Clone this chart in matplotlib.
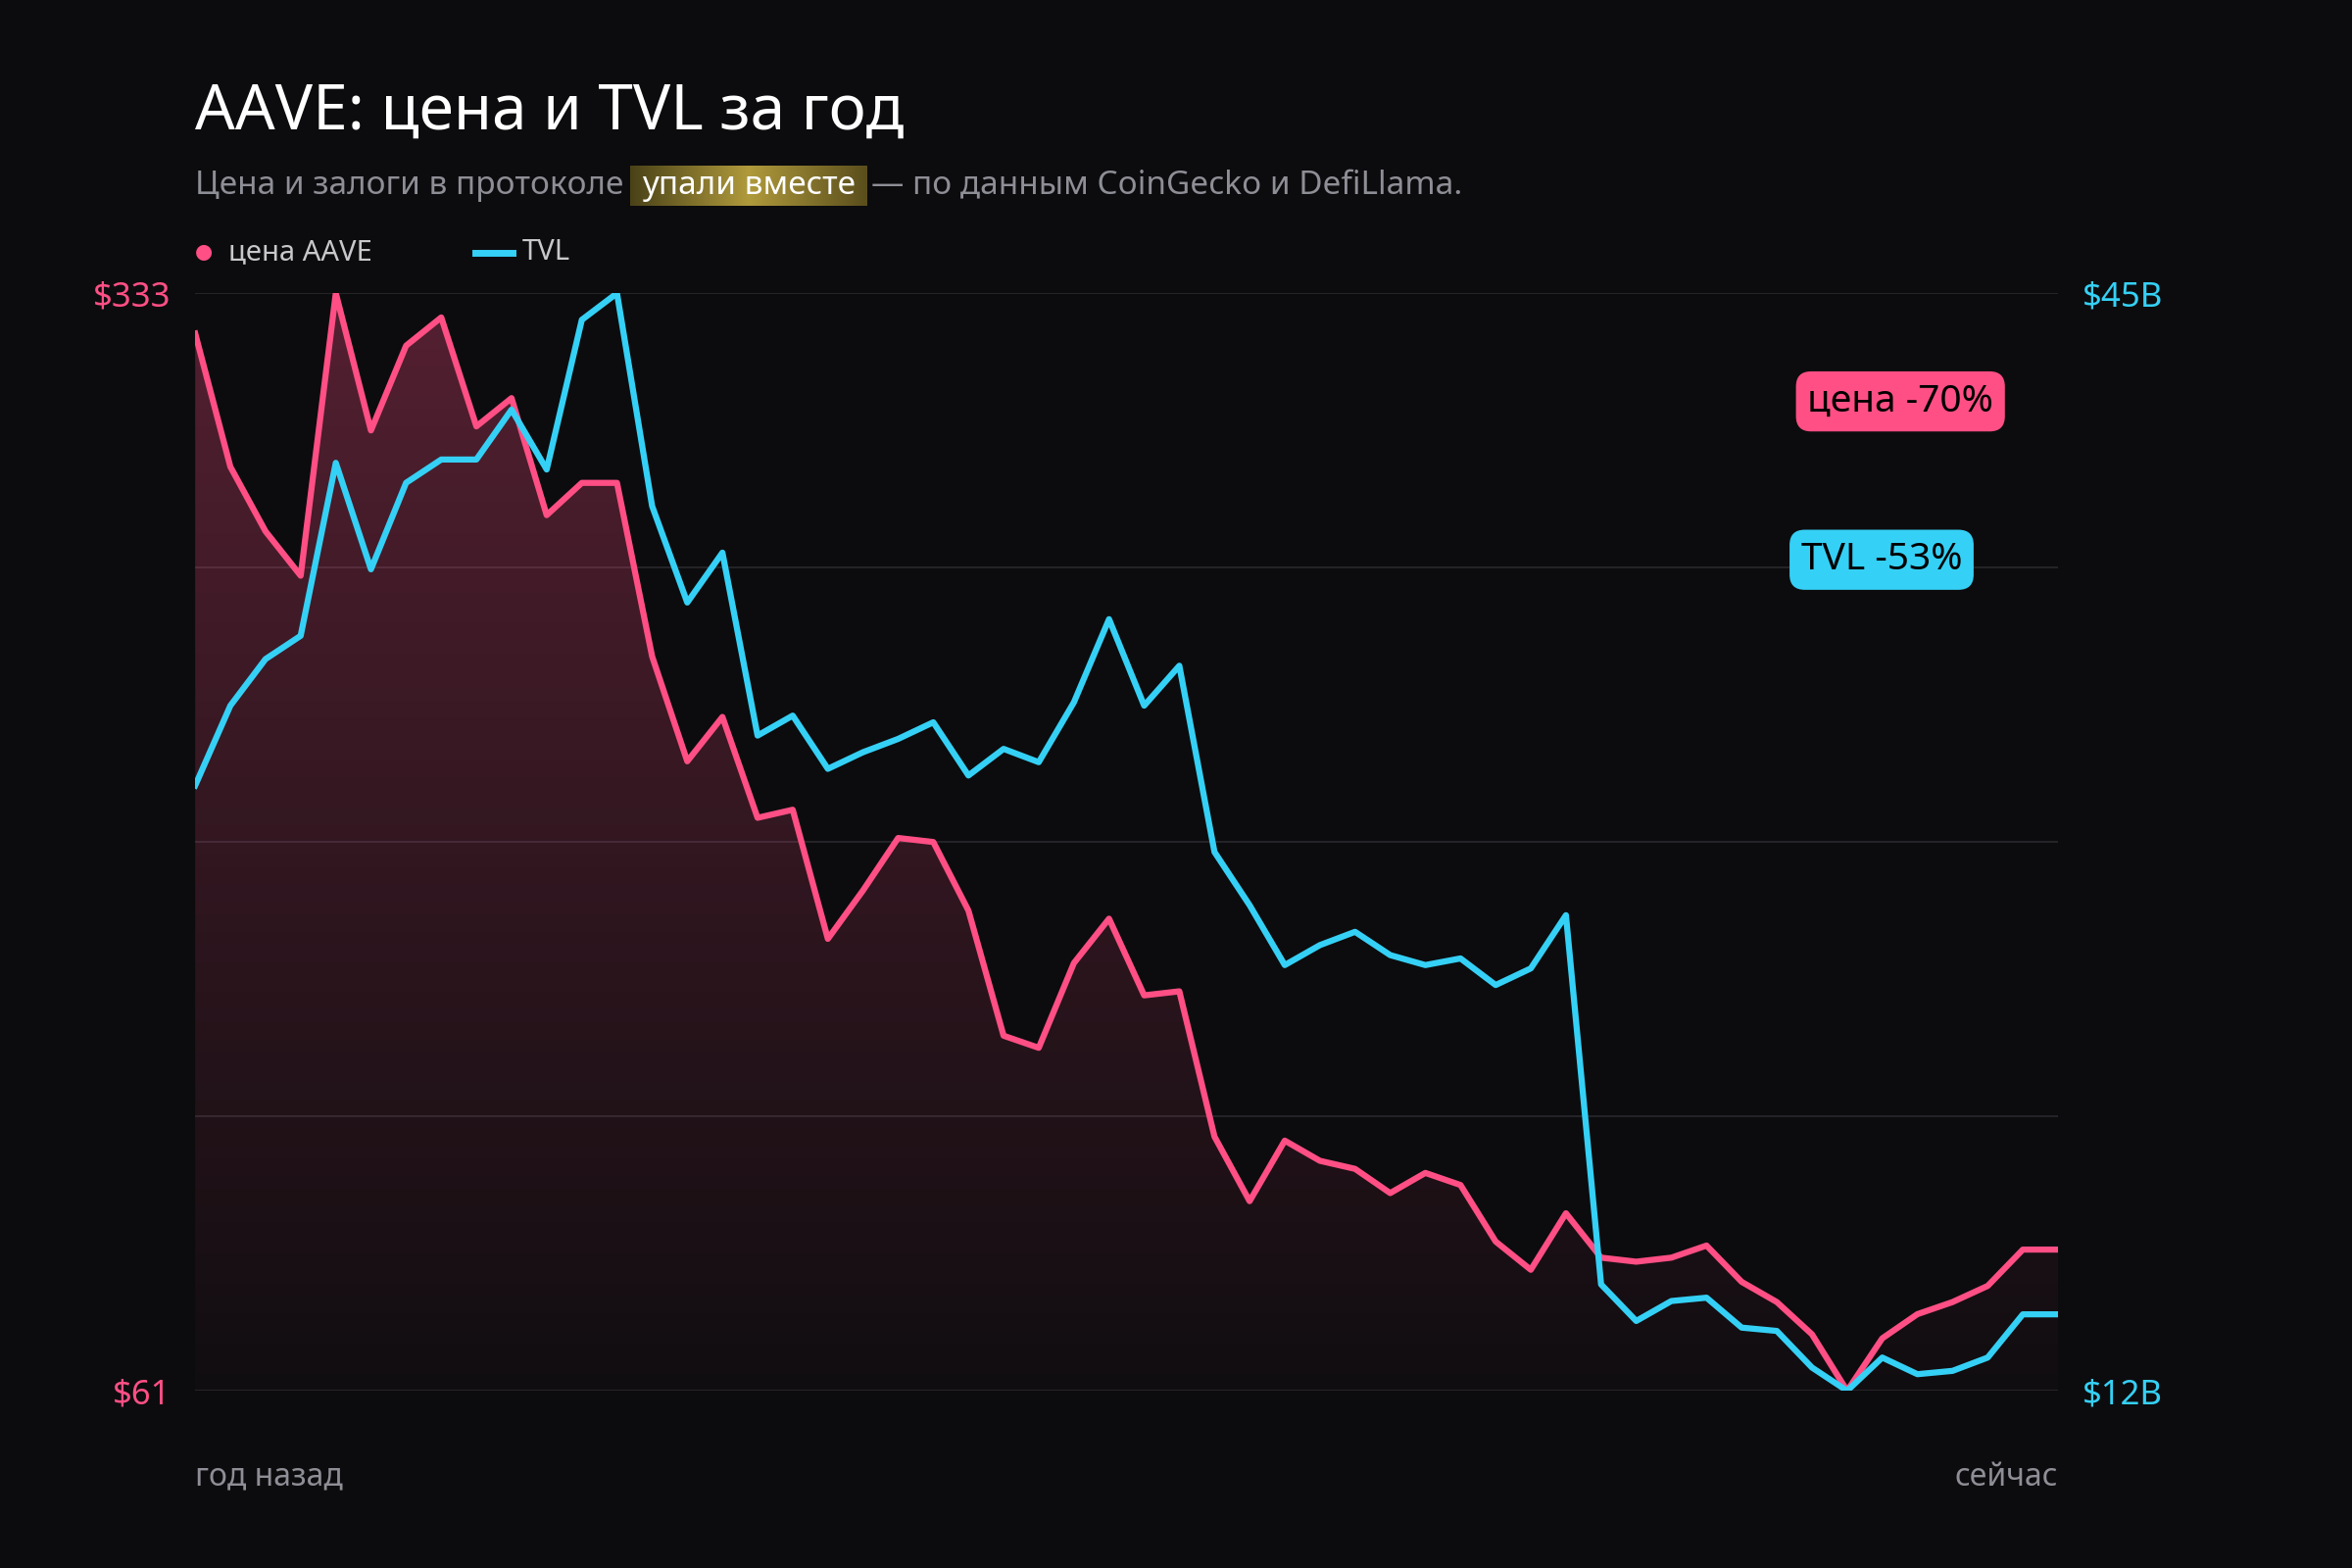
import numpy as np
import matplotlib.pyplot as plt
from matplotlib.colors import LinearSegmentedColormap

price = [323, 290, 274, 263, 333, 299, 320, 327, 300, 307, 278, 286, 286, 243, 217, 228,
         203, 205, 173, 185, 198, 197, 180, 149, 146, 167, 178, 159, 160, 124, 108, 123,
         118, 116, 110, 115, 112, 98, 91, 105, 94, 93, 94, 97, 88, 83, 75, 61, 74, 80,
         83, 87, 96, 96]
tvl = [30.2, 32.6, 34.0, 34.7, 39.9, 36.7, 39.3, 40.0, 40.0, 41.5, 39.7, 44.2, 45.0, 38.6,
       35.7, 37.2, 31.7, 32.3, 30.7, 31.2, 31.6, 32.1, 30.5, 31.3, 30.9, 32.7, 35.2, 32.6,
       33.8, 28.2, 26.6, 24.8, 25.4, 25.8, 25.1, 24.8, 25.0, 24.2, 24.7, 26.3, 15.2, 14.1,
       14.7, 14.8, 13.9, 13.8, 12.7, 12.0, 13.0, 12.5, 12.6, 13.0, 14.3, 14.3]
x = np.arange(len(price))

BG = '#0c0c0e'
PINK = '#ff4f85'
CYAN = '#35d0f5'
GREY = '#8e8e96'
plt.rcParams['font.family'] = ['Noto Sans', 'DejaVu Sans']

fig = plt.figure(figsize=(24, 16), dpi=100, facecolor=BG)
ax = fig.add_axes([0.083, 0.113, 0.792, 0.70])
ax.set_facecolor(BG)
ax2 = ax.twinx()

pmin, pmax = 61, 333
tmin, tmax = 12, 45
ax.set_ylim(pmin, pmax)
ax2.set_ylim(tmin, tmax)
ax.set_xlim(0, len(price) - 1)

for v in np.linspace(pmin, pmax, 5):
    ax.axhline(v, color='#2a2a2e', lw=1.2, zorder=0)

# gradient fill under price
poly = ax.fill_between(x, price, pmin, color='none')
grad = np.linspace(0, 1, 256).reshape(-1, 1)
cmap = LinearSegmentedColormap.from_list('g', [(1, 0.31, 0.52, 0.02), (1, 0.31, 0.52, 0.30)])
im = ax.imshow(grad, aspect='auto', cmap=cmap, origin='lower',
               extent=[0, len(price) - 1, pmin, pmax], zorder=1)
im.set_clip_path(poly.get_paths()[0], transform=ax.transData)

ax.plot(x, price, color=PINK, lw=4.5, zorder=3, solid_joinstyle='round')
ax2.plot(x, tvl, color=CYAN, lw=4.5, zorder=3, solid_joinstyle='round')

for a in (ax, ax2):
    for s in a.spines.values():
        s.set_visible(False)
    a.tick_params(length=0, pad=18)
ax.set_xticks([])
ax.set_yticks([pmin, pmax])
ax.set_yticklabels(['$61', '$333'], color=PINK, fontsize=25, fontweight='bold')
ax2.set_yticks([tmin, tmax])
ax2.set_yticklabels(['$12B', '$45B'], color=CYAN, fontsize=25, fontweight='bold')

# title and subtitle
fig.text(0.083, 0.918, 'AAVE: цена и TVL за год', color='white', fontsize=46,
         fontweight='bold', va='baseline')
fig.canvas.draw()
r = fig.canvas.get_renderer()
y_sub = 0.876
t1 = fig.text(0.083, y_sub, 'Цена и залоги в протоколе ', color=GREY, fontsize=24,
              fontweight='bold', va='baseline')
e1 = t1.get_window_extent(r)
x2 = e1.x1 / 2400 + 0.004
t2 = fig.text(x2, y_sub, 'упали вместе', color='white', fontsize=24,
              fontweight='bold', va='baseline', zorder=5)
e2 = t2.get_window_extent(r)
hl = np.linspace(0, 1, 256).reshape(1, -1)
hcmap = LinearSegmentedColormap.from_list('h', ['#4a4218', '#b09a3c', '#5a4e1c'])
hax = fig.add_axes([(e2.x0 - 12) / 2400, (e2.y0 - 4) / 1600,
                    (e2.width + 24) / 2400, (e2.height + 8) / 1600], zorder=-1)
hax.imshow(hl, aspect='auto', cmap=hcmap)
hax.axis('off')
fig.text((e2.x1 + 16) / 2400, y_sub, '— по данным CoinGecko и DefiLlama.',
         color=GREY, fontsize=24, fontweight='bold', va='baseline')

# legend
fig.text(0.083, 0.839, '●', color=PINK, fontsize=15, va='center')
fig.text(0.097, 0.839, 'цена AAVE', color='#c8c8cc', fontsize=21, fontweight='bold', va='center')
fig.lines.append(plt.Line2D([0.202, 0.218], [0.839, 0.839], color=CYAN, lw=5,
                            transform=fig.transFigure))
fig.text(0.222, 0.839, 'TVL', color='#c8c8cc', fontsize=21, fontweight='bold', va='center')

# callouts
fig.text(0.808, 0.744, 'цена -70%', color='black', fontsize=28, fontweight='bold',
         ha='center', va='center',
         bbox=dict(boxstyle='round,pad=0.3,rounding_size=0.4', fc=PINK, ec='none'))
fig.text(0.800, 0.643, 'TVL -53%', color='black', fontsize=28, fontweight='bold',
         ha='center', va='center',
         bbox=dict(boxstyle='round,pad=0.3,rounding_size=0.4', fc=CYAN, ec='none'))

fig.text(0.083, 0.058, 'год назад', color=GREY, fontsize=23, fontweight='bold', va='center')
fig.text(0.875, 0.058, 'сейчас', color=GREY, fontsize=23, fontweight='bold',
         va='center', ha='right')

fig.savefig('out.png', dpi=100, facecolor=BG)
